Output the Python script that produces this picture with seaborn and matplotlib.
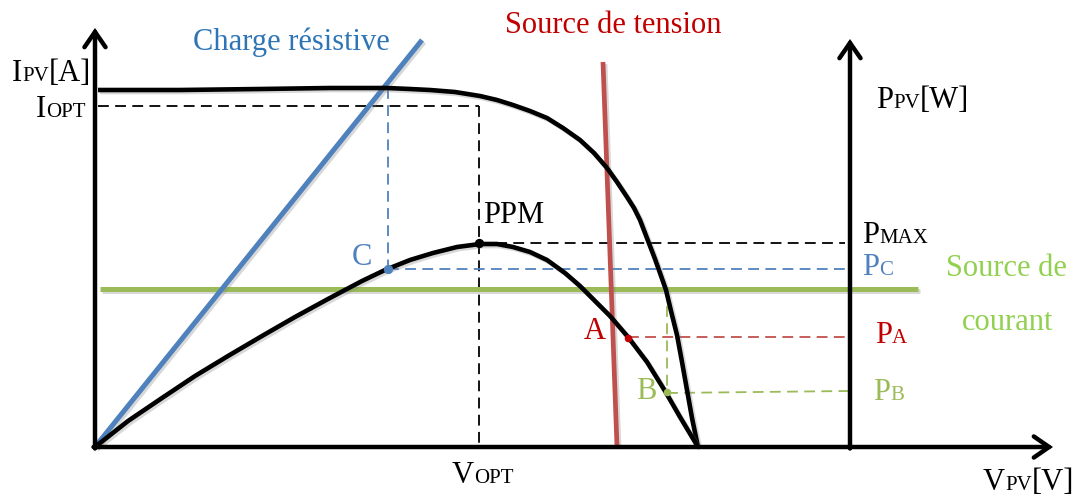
import matplotlib
matplotlib.use("Agg")
import matplotlib.pyplot as plt
import matplotlib.patheffects as pe
import seaborn as sns

# I-V characteristic of the PV module (V, I)
iv_v = [3, 85, 165, 235, 292, 315, 335, 360, 385, 402, 418, 435, 452, 468, 485,
        499, 512, 522, 532, 539, 545, 550, 555, 560, 565, 571, 576, 582, 587, 592, 597, 603]
iv_i = [357, 357, 358, 359, 359, 358, 357, 355, 351, 347, 342, 336, 329, 319, 307,
        294, 279, 265, 250, 239, 227, 214, 201, 188, 174, 157, 136, 112, 85, 57, 29, 0]

# P-V characteristic (V, P)
pv_v = [0, 33, 67, 100, 133, 167, 200, 233, 250, 267, 290, 315, 338, 362, 385,
        402, 418, 435, 452, 470, 485, 498, 515, 533, 552, 570, 585, 603]
pv_p = [0, 26, 49, 71, 91, 111, 130, 148, 157, 166, 177, 187, 194, 200, 203,
        203, 200, 195, 187, 174, 161, 148, 131, 110, 85, 56, 30, 0]

# Load lines: resistive load, voltage source, current source
load_v = [0, 327]
load_i = [0, 407]
vsrc_v = [508, 522]
vsrc_i = [385, 0]
isrc_v = [5, 823]
isrc_i = [158, 158]

# Operating points
v_opt, i_opt = 384, 341
p_max = 204
v_c, p_c = 293, 178
v_a, p_a = 533, 109
v_b, p_b = 572, 55
v_axis_p = 755          # position of the power axis
v_axis_end = 958
i_axis_end = 419
p_axis_end = 408

sns.set_theme(style="white")
plt.rcParams["font.family"] = ["Liberation Serif", "DejaVu Serif"]

BLUE = "#4F81BD"
BLUE_TXT = "#2E75B6"
RED = "#C0504D"
RED_TXT = "#C00000"
GREEN = "#9BBB59"
GREEN_TXT = "#92D050"
BIG, SMALL = 22, 15

fig = plt.figure(figsize=(10.75, 4.95), dpi=100)
ax = fig.add_axes([0, 0, 1, 1])
ax.set_xlim(-95, 980)
ax.set_ylim(-48, 447)
ax.axis("off")

shadow = [pe.SimpleLineShadow(offset=(1.5, -1.5), shadow_color="gray", alpha=0.3), pe.Normal()]

# Axes with open arrow heads
arrow = dict(arrowstyle="->,head_length=0.55,head_width=0.38", lw=3.2, color="black",
             shrinkA=0, shrinkB=0, mutation_scale=20, joinstyle="miter")
ax.annotate("", xy=(0, i_axis_end), xytext=(0, -1.5), arrowprops=arrow)
ax.annotate("", xy=(v_axis_end, 0), xytext=(-1.5, 0), arrowprops=arrow)
ax.annotate("", xy=(v_axis_p, p_axis_end), xytext=(v_axis_p, -1.5), arrowprops=arrow)

# Dashed guide lines
dash = dict(linestyle=(0, (6, 3.5)), linewidth=1.3)
ax.plot([3, v_opt], [i_opt, i_opt], color="black", **dash)
ax.plot([v_opt, v_opt], [i_opt, 0], color="black", **dash)
ax.plot([v_opt, v_axis_p - 5], [p_max, p_max], color="black", **dash)
ax.plot([v_c, v_c], [359, p_c], color=BLUE, **dash)
ax.plot([v_c, v_axis_p], [p_c, p_c], color=BLUE, **dash)
ax.plot([v_a, v_axis_p - 2], [p_a + 1, p_a + 1], color=RED, **dash)
ax.plot([v_b, v_b], [isrc_i[0], p_b], color=GREEN, **dash)
ax.plot([v_b, v_axis_p - 2], [p_b - 1, p_b + 1], color=GREEN, **dash)

# Load lines
sns.lineplot(x=isrc_v, y=isrc_i, color=GREEN, linewidth=3.6, ax=ax, sort=False, estimator=None)
sns.lineplot(x=load_v, y=load_i, color=BLUE, linewidth=3.6, ax=ax, sort=False, estimator=None)
sns.lineplot(x=vsrc_v, y=vsrc_i, color=RED, linewidth=3.4, ax=ax, sort=False, estimator=None)

# Characteristics
sns.lineplot(x=iv_v, y=iv_i, color="black", linewidth=3.3, ax=ax, sort=False, estimator=None)
sns.lineplot(x=pv_v, y=pv_p, color="black", linewidth=3.3, ax=ax, sort=False, estimator=None)
for ln in ax.lines:
    if ln.get_linewidth() > 3:
        ln.set_path_effects(shadow)
        ln.set_solid_capstyle("butt")
        ln.set_solid_joinstyle("round")

# Operating points
sns.scatterplot(x=[v_opt], y=[p_max], color="black", s=45, ax=ax, zorder=5, linewidth=0)
sns.scatterplot(x=[v_c], y=[p_c], color=BLUE, s=45, ax=ax, zorder=5, linewidth=0)
sns.scatterplot(x=[v_a], y=[p_a], color=RED_TXT, s=30, ax=ax, zorder=5, linewidth=0)
sns.scatterplot(x=[v_b], y=[p_b], color=GREEN, s=30, ax=ax, zorder=5, linewidth=0)

renderer = fig.canvas.get_renderer()
inv = ax.transData.inverted()


def rich_text(x, y, parts, color="black", ha="left"):
    """Write consecutive pieces of text of different sizes on one baseline."""
    items = []
    cur = x
    for s, size in parts:
        t = ax.text(cur, y, s, fontsize=size, color=color, ha="left", va="baseline")
        bb = t.get_window_extent(renderer)
        cur = inv.transform((bb.x1, bb.y0))[0]
        items.append(t)
    if ha == "center":
        shift = (cur - x) / 2
        for t in items:
            px, py = t.get_position()
            t.set_position((px - shift, py))
    return items


rich_text(-83, 366, [("I", BIG), ("PV", SMALL), ("[A]", BIG)])
rich_text(-59, 330, [("I", BIG), ("OPT", SMALL)])
rich_text(357, -36, [("V", BIG), ("OPT", SMALL)])
rich_text(888, -43, [("V", BIG), ("PV", SMALL), ("[V]", BIG)])
rich_text(781, 339, [("P", BIG), ("PV", SMALL), ("[W]", BIG)])
rich_text(767, 204, [("P", BIG), ("MAX", SMALL)])
rich_text(767, 172, [("P", BIG), ("C", SMALL)], color=BLUE)
rich_text(780, 104, [("P", BIG), ("A", SMALL)], color=RED_TXT)
rich_text(778, 47, [("P", BIG), ("B", SMALL)], color=GREEN)

ax.text(388, 224, "PPM", fontsize=BIG, color="black", va="baseline")
ax.text(257, 182, "C", fontsize=BIG, color=BLUE, va="baseline")
ax.text(489, 108, "A", fontsize=BIG, color=RED_TXT, va="baseline")
ax.text(541, 48, "B", fontsize=BIG, color=GREEN, va="baseline")
ax.text(98, 397, "Charge résistive", fontsize=BIG, color=BLUE_TXT, va="baseline")
ax.text(410, 414, "Source de tension", fontsize=BIG, color=RED_TXT, va="baseline")
ax.text(911, 171, "Source de", fontsize=BIG, color=GREEN_TXT, va="baseline", ha="center")
ax.text(913, 117, "courant", fontsize=BIG, color=GREEN_TXT, va="baseline", ha="center")

fig.savefig("out.png", dpi=100, facecolor="white")
